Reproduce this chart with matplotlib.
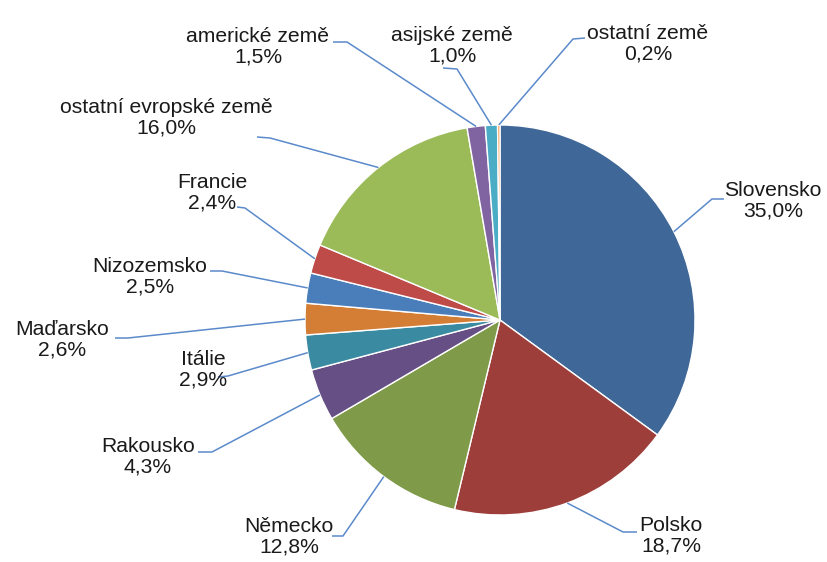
import numpy as np
import matplotlib
matplotlib.use('Agg')
import matplotlib.pyplot as plt

# data
zeme = ['Slovensko', 'Polsko', 'Německo', 'Rakousko', 'Itálie', 'Maďarsko',
        'Nizozemsko', 'Francie', 'ostatní evropské země', 'americké země',
        'asijské země', 'ostatní země']
podil = [35.0, 18.7, 12.8, 4.3, 2.9, 2.6, 2.5, 2.4, 16.0, 1.5, 1.0, 0.2]
barvy = ['#3F6797', '#9E3E3B', '#7F9A48', '#664F85', '#3A8BA2', '#D47E35',
         '#4A7EBB', '#BE4B48', '#9BBB59', '#8064A2', '#4BACC6', '#F79646']

# layout (pixels, y from top): label centre, elbow, line end near label
lab_xy = [(773, 201), (671, 536), (289, 537), (148, 457), (203, 370), (62, 340),
          (150, 277), (212, 193), (166, 118), (258, 47), (452, 46), (648, 44)]
elbow = [(712, 199), (623, 532), (343, 536), (212, 452), (228, 376), (128, 338),
         (222, 271), (245, 208), (270, 138), (347, 42), (457, 69), (573, 39)]
konec = [(724, 199), (637, 532), (332, 536), (198, 452), (218, 377), (115, 338),
         (210, 271), (237, 207), (257, 137), (333, 42), (443, 68), (585, 38)]

W, H = 827, 562
cx, cy, R = 500, 320, 195

fig = plt.figure(figsize=(W / 100, H / 100), dpi=100)
ax = fig.add_axes([0, 0, 1, 1])

ax.pie(podil, colors=barvy, startangle=90, counterclock=False,
       center=(cx, H - cy), radius=R, frame=True,
       wedgeprops=dict(edgecolor='white', linewidth=1))
ax.set_xlim(0, W)
ax.set_ylim(0, H)
ax.set_aspect('equal')
ax.axis('off')

cum = np.cumsum([0] + podil[:-1])
tot = sum(podil)
for i, z in enumerate(zeme):
    mid = np.deg2rad(90 - (cum[i] + podil[i] / 2) / tot * 360)
    ex, ey = cx + R * np.cos(mid), (H - cy) + R * np.sin(mid)
    xs = [ex, elbow[i][0], konec[i][0]]
    ys = [ey, H - elbow[i][1], H - konec[i][1]]
    ax.plot(xs, ys, color='#5B8ACB', lw=1.1, solid_capstyle='butt')
    txt = '%s\n%s%%' % (z, ('%.1f' % podil[i]).replace('.', ','))
    ax.text(lab_xy[i][0], H - lab_xy[i][1], txt, ha='center', va='center',
            fontsize=15.2, family=['Liberation Sans', 'DejaVu Sans'],
            color='#1a1a1a', linespacing=1.1)

fig.savefig('out.png', dpi=100)
